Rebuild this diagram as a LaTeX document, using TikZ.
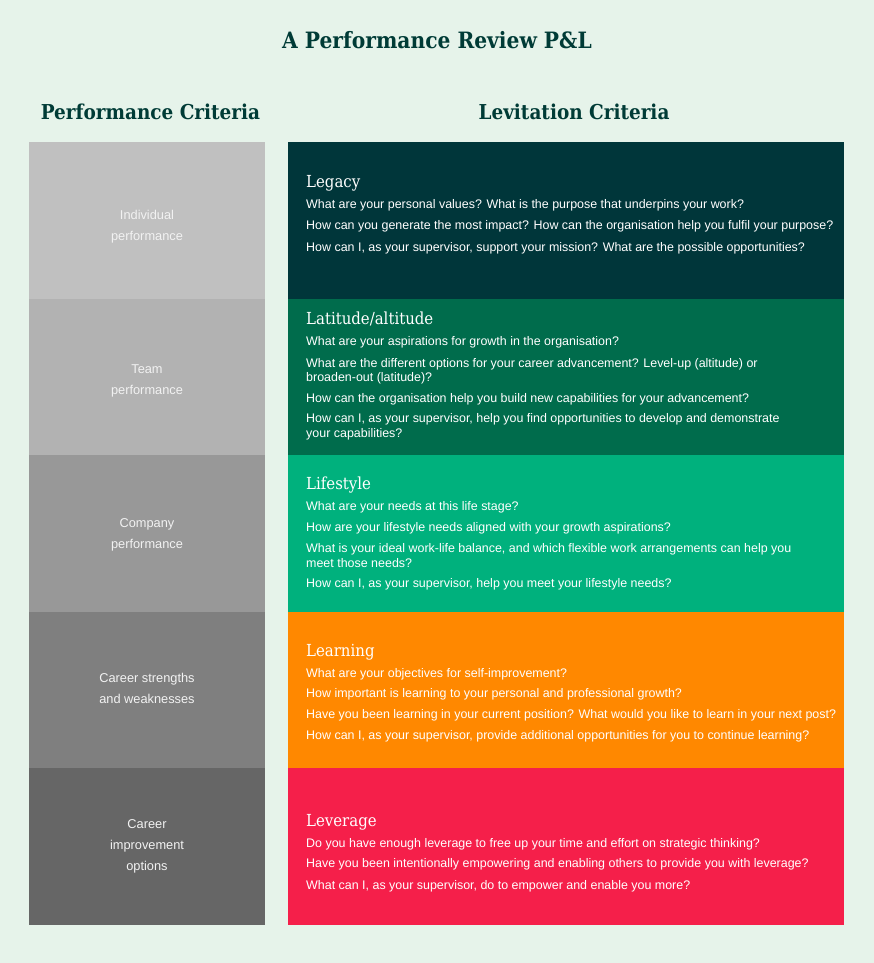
\documentclass[tikz,border=0pt]{standalone}
\usepackage{fontspec}
\setmainfont{Liberation Sans}
\newfontfamily\slabfont{DejaVu Serif Condensed}
\definecolor{bgc}{HTML}{E6F3EA}
\definecolor{titlec}{HTML}{003B36}
\definecolor{ga}{HTML}{C0C0C0}
\definecolor{gb}{HTML}{B2B2B2}
\definecolor{gc}{HTML}{989898}
\definecolor{gd}{HTML}{7F7F7F}
\definecolor{ge}{HTML}{666666}
\definecolor{ra}{HTML}{00363A}
\definecolor{rb}{HTML}{006C4C}
\definecolor{rc}{HTML}{00B17D}
\definecolor{rd}{HTML}{FF8800}
\definecolor{re}{HTML}{F51F4A}
\definecolor{lefttext}{HTML}{F2F2F2}
\tikzset{
  cell/.style={inner sep=0pt, outer sep=0pt},
  q/.style={inner sep=0pt, anchor=base west, text=white, font=\fontsize{12.45}{14}\selectfont},
  qh/.style={inner sep=0pt, anchor=base west, text=white, font=\slabfont\fontsize{16.6}{19}\selectfont},
  lab/.style={inner sep=0pt, anchor=base, text=lefttext, font=\fontsize{12.8}{14}\selectfont},
  colhead/.style={inner sep=0pt, anchor=base, text=titlec, font=\slabfont\bfseries\fontsize{20.5}{23}\selectfont},
}
\newcommand\qln[3]{\node[q] (#1) at (306,#2) {#3};}
\begin{document}
\begin{tikzpicture}[x=1pt,y=-1pt]
\fill[bgc] (0,0) rectangle (874,963);
\useasboundingbox (0,0) rectangle (874,963);
\node[inner sep=0pt, anchor=base, text=titlec, font=\slabfont\bfseries\fontsize{22.5}{26}\selectfont] (title) at (437,48.5) {A Performance Review P\&L};
\node[colhead] (hl) at (150.5,120) {Performance Criteria};
\node[colhead] (hr) at (574,120) {Levitation Criteria};
% left column
\fill[ga] (29,142) rectangle (265,298.5);
\fill[gb] (29,298.5) rectangle (265,455);
\fill[gc] (29,455) rectangle (265,611.5);
\fill[gd] (29,611.5) rectangle (265,768);
\fill[ge] (29,768) rectangle (265,925);
% right column
\fill[ra] (288,142) rectangle (844,298.5);
\fill[rb] (288,298.5) rectangle (844,455);
\fill[rc] (288,455) rectangle (844,611.5);
\fill[rd] (288,611.5) rectangle (844,768);
\fill[re] (288,768) rectangle (844,925);
% left labels
\node[lab] (la1) at (147,219) {Individual};
\node[lab] (la2) at (147,240) {performance};
\node[lab] (lb1) at (147,373) {Team};
\node[lab] (lb2) at (147,394) {performance};
\node[lab] (lc1) at (147,527) {Company};
\node[lab] (lc2) at (147,548) {performance};
\node[lab] (ld1) at (147,682) {Career strengths};
\node[lab] (ld2) at (147,703) {and weaknesses};
\node[lab] (le1) at (147,828) {Career};
\node[lab] (le2) at (147,849) {improvement};
\node[lab] (le3) at (147,870) {options};
% Legacy
\node[qh] (ha) at (306,187) {Legacy};
\qln{a1}{208}{What are your personal values? What is the purpose that underpins your work?}
\qln{a2}{229.5}{How can you generate the most impact? How can the organisation help you fulfil your purpose?}
\qln{a3}{251}{How can I, as your supervisor, support your mission? What are the possible opportunities?}
% Latitude
\node[qh] (hb) at (306,324) {Latitude/altitude};
\qln{b1}{345}{What are your aspirations for growth in the organisation?}
\qln{b2}{367}{What are the different options for your career advancement? Level-up (altitude) or}
\qln{b3}{381}{broaden-out (latitude)?}
\qln{b4}{402}{How can the organisation help you build new capabilities for your advancement?}
\qln{b5}{422}{How can I, as your supervisor, help you find opportunities to develop and demonstrate}
\qln{b6}{437}{your capabilities?}
% Lifestyle
\node[qh] (hc) at (306,489) {Lifestyle};
\qln{c1}{510}{What are your needs at this life stage?}
\qln{c2}{531}{How are your lifestyle needs aligned with your growth aspirations?}
\qln{c3}{552}{What is your ideal work-life balance, and which flexible work arrangements can help you}
\qln{c4}{567}{meet those needs?}
\qln{c5}{587}{How can I, as your supervisor, help you meet your lifestyle needs?}
% Learning
\node[qh] (hd) at (306,656) {Learning};
\qln{d1}{677}{What are your objectives for self-improvement?}
\qln{d2}{697}{How important is learning to your personal and professional growth?}
\qln{d3}{718}{Have you been learning in your current position? What would you like to learn in your next post?}
\qln{d4}{739}{How can I, as your supervisor, provide additional opportunities for you to continue learning?}
% Leverage
\node[qh] (he) at (306,826) {Leverage};
\qln{e1}{847}{Do you have enough leverage to free up your time and effort on strategic thinking?}
\qln{e2}{867}{Have you been intentionally empowering and enabling others to provide you with leverage?}
\qln{e3}{889}{What can I, as your supervisor, do to empower and enable you more?}
\end{tikzpicture}
\end{document}
